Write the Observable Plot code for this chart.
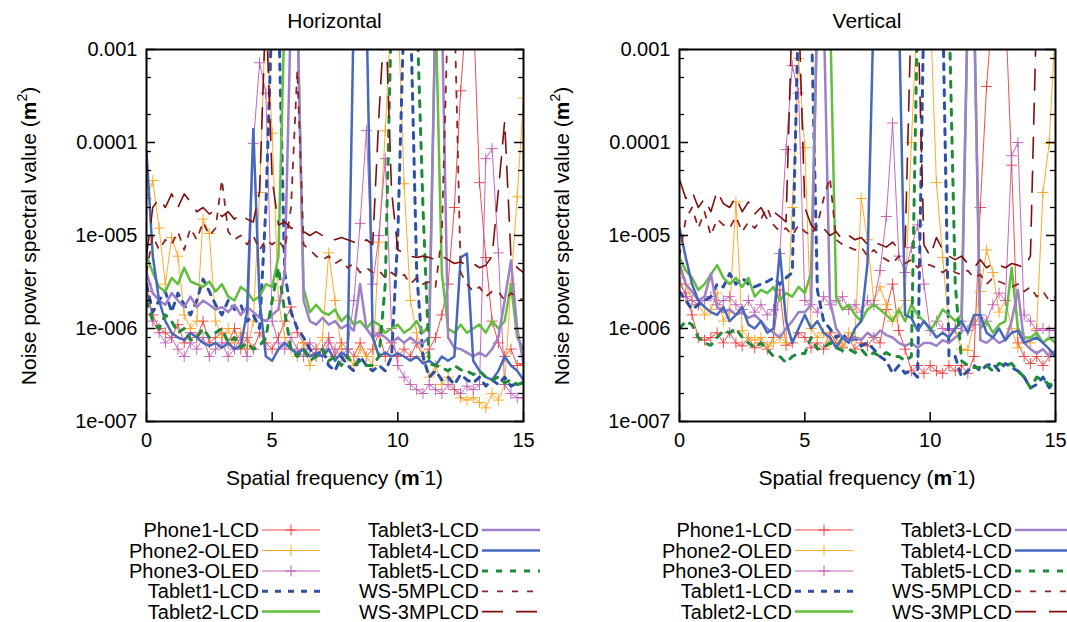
<!DOCTYPE html>
<html>
<head>
<meta charset="utf-8">
<script src="https://cdn.jsdelivr.net/npm/d3@7"></script>
<script src="https://cdn.jsdelivr.net/npm/@observablehq/plot@0.6"></script>
<style>
  body { margin: 0; background: #fff; }
  #root { position: relative; width: 1067px; height: 622px; overflow: hidden; font-family: "Liberation Sans", Arial, sans-serif; color: #000; }
  .panel { position: absolute; top: 0; }
  .lbl { position: absolute; white-space: nowrap; font-size: 21px; transform: translate(-50%, -50%); }
  .ylbl { position: absolute; white-space: nowrap; font-size: 21px; transform: translate(-50%, -50%) rotate(-90deg); }
  .sup { font-size: 14px; vertical-align: 9px; }
  #legend { position: absolute; left: 0; top: 0; }
</style>
</head>
<body>
<div id="root"></div>
<script>
// ---------------- data ----------------
const freq = [0,0.25,0.5,0.75,1,1.25,1.5,1.75,2,2.25,2.5,2.75,3,3.25,3.5,3.75,4,4.25,4.5,4.75,
  5,5.25,5.5,5.75,6,6.25,6.5,6.75,7,7.25,7.5,7.75,8,8.25,8.5,8.75,9,9.25,9.5,9.75,
  10,10.25,10.5,10.75,11,11.25,11.5,11.75,12,12.25,12.5,12.75,13,13.25,13.5,13.75,14,14.25,14.5,14.75,15];
const UNIT = 1e-7; // values below are in units of 1e-7

const seriesNames = ["Phone1-LCD","Phone2-OLED","Phone3-OLED","Tablet1-LCD","Tablet2-LCD",
  "Tablet3-LCD","Tablet4-LCD","Tablet5-LCD","WS-5MPLCD","WS-3MPLCD"];

// Horizontal
const hPhone1 = [25,14,10,9, 8,11,7,9, 8,12,7,8, 9,7,10,6, 8,6,9,7, 6,8,12,17, 9,7,6,5, 6,8,5,7,
  6,5,7,5, 6,9,5,7, 5,6,5,7, 5,6,8,14, 30,200,3600,30000, 30000,370,58,12, 7,5,6,4, 4.2];
const hPhone2 = [250,390,120,30, 95,60,14,10, 12,150,105,12, 8,10,7,9, 6,12,290,30000, 1260,20,8,6,
  5,7,4,6, 8,65,20,6, 5,4,6,5, 4,85,1340,30000, 30000,360,20,9, 5,3,4,2.5, 3,2.2,1.8,1.7,
  1.8,1.6,1.4,2, 1.7,2.5,30,260, 3000];
const hPhone3 = [30,12,9,7, 8,6,5,7, 6,8,5,6, 7,5,6,8, 5,980,7200,3400, 12,7,6,8, 6,5,7,6, 5,7,6,5,
  6,20,135,1350, 30,100,670,10, 4,3,2.5,2.2, 2,2.5,2.2,2, 2.5,2.2,2,2.4, 2.2,2.5,670,860, 65,2.5,2,1.8, 1.8];
const hTablet1 = [30,15,20,25, 15,24,18,14, 20,34,25,18, 14,20,16,18, 12,14,10,200, 30000,30000,40,15,
  10,8,6,5, 6,4,3.5,5, 4,3.5,5,4, 3.5,4,3.5,5, 100,30000,30000,40, 5,3,3.5,2.8, 3,2.5,3.2,2.8,
  2.6,3,2.4,2.8, 2.5,3,2.4,2.6, 2.6];
const hTablet2 = [60,40,28,25, 35,30,45,32, 30,28,32,25, 30,22,20,28, 25,20,22,30, 28,60,30000,30000,
  30000,27,15,18, 15,14,16,12, 14,11,12,10, 12,11,9,10, 11,9,10,12, 9,11,30000,40, 10,9,11,9,
  10,11,9,12, 10,12,30,8, 6];
const hTablet3 = [40,24,20,18, 24,20,17,22, 17,20,18,16, 17,15,18,14, 17,15,13,12, 14,16,40,30000,
  30000,20,12,11, 13,11,12,10, 11,9.5,30,10, 8,9,8,7, 8,7,8,7, 7,8,30000,30000, 8,6.2,6,5.5,
  5,5.5,5,6, 8,20,54,10, 4.2];
const hTablet4 = [800,60,20,12, 9,8,7.5,9, 8,7,6.5,7, 6.2,7,6,6.5, 15,1400,20,5, 4.5,6,7,6,
  5.4,6,5,5.5, 5,6,4.5,5.5, 5,30000,30000,30000, 8,5,5.5,5, 5.4,5,4.5,5, 4.2,4.5,4,5, 4.5,5,58,64,
  4.5,3.5,3,2.8, 3.5,5,4,3.5, 2.8];
const hTablet5 = [20,12,10,14, 12,9,10,7.5, 8,10,8,9, 10,7,8,6.2, 7,6,6.5,8, 20,45,15,6,
  5,6,4.5,5, 6,4.5,5,4, 5,4,4.5,4, 4,5,30,30000, 30000,30000,30000,30000, 200,4.2,4,3.8, 3.5,4,3.6,3.5,
  3.2,3.5,3,2.8, 3,2.6,2.8,2.5, 2.6];
const hWS5 = [40,100,70,90, 80,110,70,120, 90,140,100,120, 400,110,90,100, 80,100,70,90, 80,90,70,200,
  6000,80,70,60, 55,60,50,55, 45,50,40,45, 40,42,35,40, 35,38,30,35, 30,32,28,100, 30000,30000,40,30,
  25,28,22,25, 25,20,24,22, 20];
const hWS3 = [60,200,250,200, 280,200,280,230, 180,200,170,190, 160,180,150,170, 150,140,300,30000, 400,130,140,120,
  120,110,100,110, 100,95,90,95, 90,85,80,90, 80,2000,30000,300, 70,65,60,58, 60,58,55,60, 55,50,52,48,
  50,45,48,60, 300,1700,60,45, 40];

// Vertical
const vPhone1 = [30,24,14,8, 7.5,8,9,7, 9,7,6.5,8, 6.2,7,6,8, 26,6.6,7,9, 8,6.2,7,6, 9,7,6.2,8, 6,7,6.5,8,
  7,16,30,9.5, 6,3.5,4,3.3, 4,3.5,3.3,4, 3.5,4,3.3,5, 200,4000,30000,30000, 30000,570,7,5, 4.2,5,4,5, 5.5];
const vPhone2 = [42,30,20,18, 14,16,24,12, 15,230,9.5,8, 7.5,8,6.5,7, 8,7,200,8000, 880,10,8,9,
  7,8,6.5,9, 8,250,90,20, 28,18,12,15, 20,1000,30000,30000, 30000,370,58,10, 10,6,5.8,12, 25,70,40,15,
  20,10,6.2,8, 7,10,290,980, 20000];
const vPhone3 = [35,22,20,18, 20,22,18,20, 22,18,16,20, 15,18,14,16, 64,840,6700,3400, 20,18,15,22,
  18,20,22,16, 18,15,20,18, 42,160,1620,60, 40,74,130,30, 9.5,12,10,9.5, 10,12,9.5,11, 14,12,18,24,
  20,720,1000,14, 12,9.5,10,9.5, 9.5];
const vTablet1 = [25,20,16,18, 20,22,30,28, 39,30,35,30, 28,30,32,35, 30,35,40,30000, 30000,30000,26,12,
  10,8,9,7, 8,6.5,7,6, 5,4.5,3.3,4, 3.3,3.5,3,30000, 30000,30000,30000,5, 5,3,3.5,4, 3.5,4,4.2,3.5,
  4.2,3.8,3.5,3, 2.3,2.5,3,2.3, 2.8];
const vTablet2 = [58,42,35,26, 30,38,48,35, 30,35,28,35, 22,26,24,28, 20,24,22,28, 24,40,30000,30000,
  30000,22,16,18, 14,12,16,18, 16,14,12,16, 12,18,14,12, 9.5,12,16,14, 12,14,30000,30000, 10,12,9,11,
  12,45,10,8, 8,9,7,8, 7];
const vTablet3 = [50,30,25,20, 22,39,17,15, 16,14,15,13, 14,12,10,9, 8,10,12,15, 15,18,30000,30000,
  20,10,8,7.5, 8,7.5,9,8, 9.5,8.5,8,7, 6.5,7,6.2,7, 7,6.5,7.5,7, 8,9,30000,30000, 7.5,7,8,7,
  7.5,12,26,7, 6,5.4,6,5, 5.8];
const vTablet4 = [120,58,30,20, 17,15,14,17, 12,14,17,11, 10,12,9,10, 70,12,7,10, 14,10,12,9,
  8,6.2,8,7, 10,12,50,30000, 30000,30000,30000,30000, 14,13,9.5,12, 10,8,9,8, 10,12,9,14, 14,9,8,10,
  7.5,9,9.5,7, 7.5,8,7,6, 5];
const vTablet5 = [10,12,11,8, 7,6.6,8,9.5, 9,10,8,7, 6.2,7,6,5, 5,4.3,5,5.4, 5.4,8,6,6.2,
  7,6.2,5.8,6, 5.5,6,5,5.5, 5,5.5,5,5, 4.5,5,30000,30000, 30000,30000,30000,30000, 30,4.5,4,3.8, 3.8,4,3.5,4.2,
  4,4.2,3.5,3, 2.3,3,2.8,2.5, 2.5];
const vWS5 = [60,150,200,120, 180,100,150,130, 120,160,110,140, 120,150,200,130, 110,120,100,130, 110,100,130,250,
  420,90,80,75, 70,75,60,70, 60,55,50,60, 50,55,45,50, 48,45,40,45, 40,38,42,35, 38,30,35,32,
  30,28,30,25, 28,22,25,20, 22];
const vWS3 = [400,250,300,200, 250,180,300,220, 200,260,180,230, 170,200,150,180, 160,140,30000,30000, 200,130,110,120,
  100,110,90,100, 90,95,80,85, 80,75,85,70, 75,30000,30000,80, 60,95,70,60, 55,60,50,45, 55,45,50,48,
  45,50,48,45, 60,30000,30000,30000, 30000];

const xTickValues = [0, 5, 10, 15];
const yTickValues = [1e-7, 1e-6, 1e-5, 1e-4, 1e-3];
const yTickLabels = ["1e-007", "1e-006", "1e-005", "0.0001", "0.001"];
const yMinorTicks = [2e-7,5e-7,8e-7,2e-6,5e-6,8e-6,2e-5,5e-5,8e-5,2e-4,5e-4,8e-4];
const panelTitles = ["Horizontal", "Vertical"];

// ---------------- styles ----------------
const styles = [
  {stroke: "#f03a3a", width: 1, dash: null, marker: true, op: 0.9},
  {stroke: "#ffa520", width: 1, dash: null, marker: true, op: 0.95},
  {stroke: "#c158b2", width: 1, dash: null, marker: true, op: 0.9},
  {stroke: "#2b50a6", width: 3, dash: "6,7", marker: false, op: 1},
  {stroke: "#62bf3e", width: 2.5, dash: null, marker: false, op: 1},
  {stroke: "#9d80c8", width: 2.5, dash: null, marker: false, op: 1},
  {stroke: "#4669bd", width: 2.5, dash: null, marker: false, op: 1},
  {stroke: "#1e8a3a", width: 3, dash: "6,8", marker: false, op: 1},
  {stroke: "#8e2424", width: 1.8, dash: "6,9", marker: false, op: 1},
  {stroke: "#800e0e", width: 1.6, dash: "21,13", marker: false, op: 1}
];

const plusSymbol = {
  draw(context, size) {
    const r = Math.sqrt(size / Math.PI);
    context.moveTo(-r, 0); context.lineTo(r, 0);
    context.moveTo(0, -r); context.lineTo(0, r);
  }
};

const FONT = "'Liberation Sans', Arial, sans-serif";

function makePanel(seriesArrays, width, marginRight) {
  const marks = [];
  seriesArrays.forEach((arr, k) => {
    const st = styles[k];
    const rows = freq.map((f, i) => ({f, v: arr[i] * UNIT}));
    marks.push(Plot.line(rows, {x: "f", y: "v", stroke: st.stroke, strokeWidth: st.width,
      strokeDasharray: st.dash, strokeOpacity: st.op, clip: true, strokeLinejoin: "round"}));
    if (st.marker) {
      marks.push(Plot.dot(rows, {x: "f", y: "v", symbol: plusSymbol, r: 5.5, stroke: st.stroke,
        strokeWidth: 1, fill: "none", strokeOpacity: st.op, clip: true}));
    }
  });
  // inward ticks
  marks.push(Plot.ruleY(yMinorTicks, {x1: 0, x2: 0.2, stroke: "#000", strokeWidth: 1.3}));
  marks.push(Plot.ruleY(yMinorTicks, {x1: 14.8, x2: 15, stroke: "#000", strokeWidth: 1.3}));
  marks.push(Plot.ruleY(yTickValues, {x1: 0, x2: 0.36, stroke: "#000", strokeWidth: 1.5}));
  marks.push(Plot.ruleY(yTickValues, {x1: 14.64, x2: 15, stroke: "#000", strokeWidth: 1.5}));
  marks.push(Plot.ruleX(xTickValues, {y1: 1e-7, y2: 1.25e-7, stroke: "#000", strokeWidth: 1.5}));
  marks.push(Plot.frame({stroke: "#000", strokeWidth: 2}));
  return Plot.plot({
    width, height: 500,
    marginLeft: 146, marginRight, marginTop: 49, marginBottom: 79,
    x: {domain: [0, 15], ticks: xTickValues, tickFormat: d => String(d), tickSize: 0, tickPadding: 11, label: null},
    y: {type: "log", domain: [1e-7, 1e-3], ticks: yTickValues,
        tickFormat: d => yTickLabels[yTickValues.findIndex(t => Math.abs(t - d) / t < 1e-6)],
        tickSize: 0, tickPadding: 9, label: null},
    style: {fontSize: "20px", fontFamily: FONT, color: "#000", background: "transparent", overflow: "visible"},
    marks
  });
}

const root = document.getElementById("root");
const panels = [
  {series: [hPhone1,hPhone2,hPhone3,hTablet1,hTablet2,hTablet3,hTablet4,hTablet5,hWS5,hWS3], left: 0, width: 533, mr: 10},
  {series: [vPhone1,vPhone2,vPhone3,vTablet1,vTablet2,vTablet3,vTablet4,vTablet5,vWS5,vWS3], left: 533, width: 534, mr: 12}
];

panels.forEach((p, idx) => {
  const wrap = document.createElement("div");
  wrap.className = "panel";
  wrap.style.left = p.left + "px";
  wrap.appendChild(makePanel(p.series, p.width, p.mr));
  root.appendChild(wrap);
  const cx = p.left + 146 + (p.width - 146 - p.mr) / 2;
  const t = document.createElement("div");
  t.className = "lbl"; t.style.left = cx + "px"; t.style.top = "21px";
  t.textContent = panelTitles[idx];
  root.appendChild(t);
  const xl = document.createElement("div");
  xl.className = "lbl"; xl.style.left = cx + "px"; xl.style.top = "476px";
  xl.innerHTML = 'Spatial frequency (<b>m</b><span class="sup">-</span>1)';
  root.appendChild(xl);
  const yl = document.createElement("div");
  yl.className = "ylbl"; yl.style.left = (p.left + 27) + "px"; yl.style.top = "236px";
  yl.innerHTML = 'Noise power spectral value (<b>m</b><span class="sup">2</span>)';
  root.appendChild(yl);
});

// ---------------- legend ----------------
const svg = d3.select(root).append("svg").attr("id", "legend").attr("width", 1067).attr("height", 622);
const rowY = [530, 550.5, 571, 591.3, 611.6];
const cols = [{tr: 259, x1: 262, x2: 320}, {tr: 479, x1: 482, x2: 540}];
[0, 533].forEach(off => {
  seriesNames.forEach((name, k) => {
    const c = cols[Math.floor(k / 5)], y = rowY[k % 5], st = styles[k];
    svg.append("text").attr("x", off + c.tr).attr("y", y).attr("dy", "0.35em")
      .attr("text-anchor", "end").attr("font-family", FONT).attr("font-size", 20).attr("fill", "#000").text(name);
    svg.append("line").attr("x1", off + c.x1).attr("x2", off + c.x2).attr("y1", y).attr("y2", y)
      .attr("stroke", st.stroke).attr("stroke-width", st.width).attr("stroke-opacity", st.op)
      .attr("stroke-dasharray", st.dash);
    if (st.marker) {
      const mx = off + (c.x1 + c.x2) / 2;
      svg.append("path").attr("d", `M${mx-5.5},${y}H${mx+5.5}M${mx},${y-5.5}V${y+5.5}`)
        .attr("stroke", st.stroke).attr("stroke-width", 1).attr("fill", "none");
    }
  });
});
</script>
</body>
</html>
